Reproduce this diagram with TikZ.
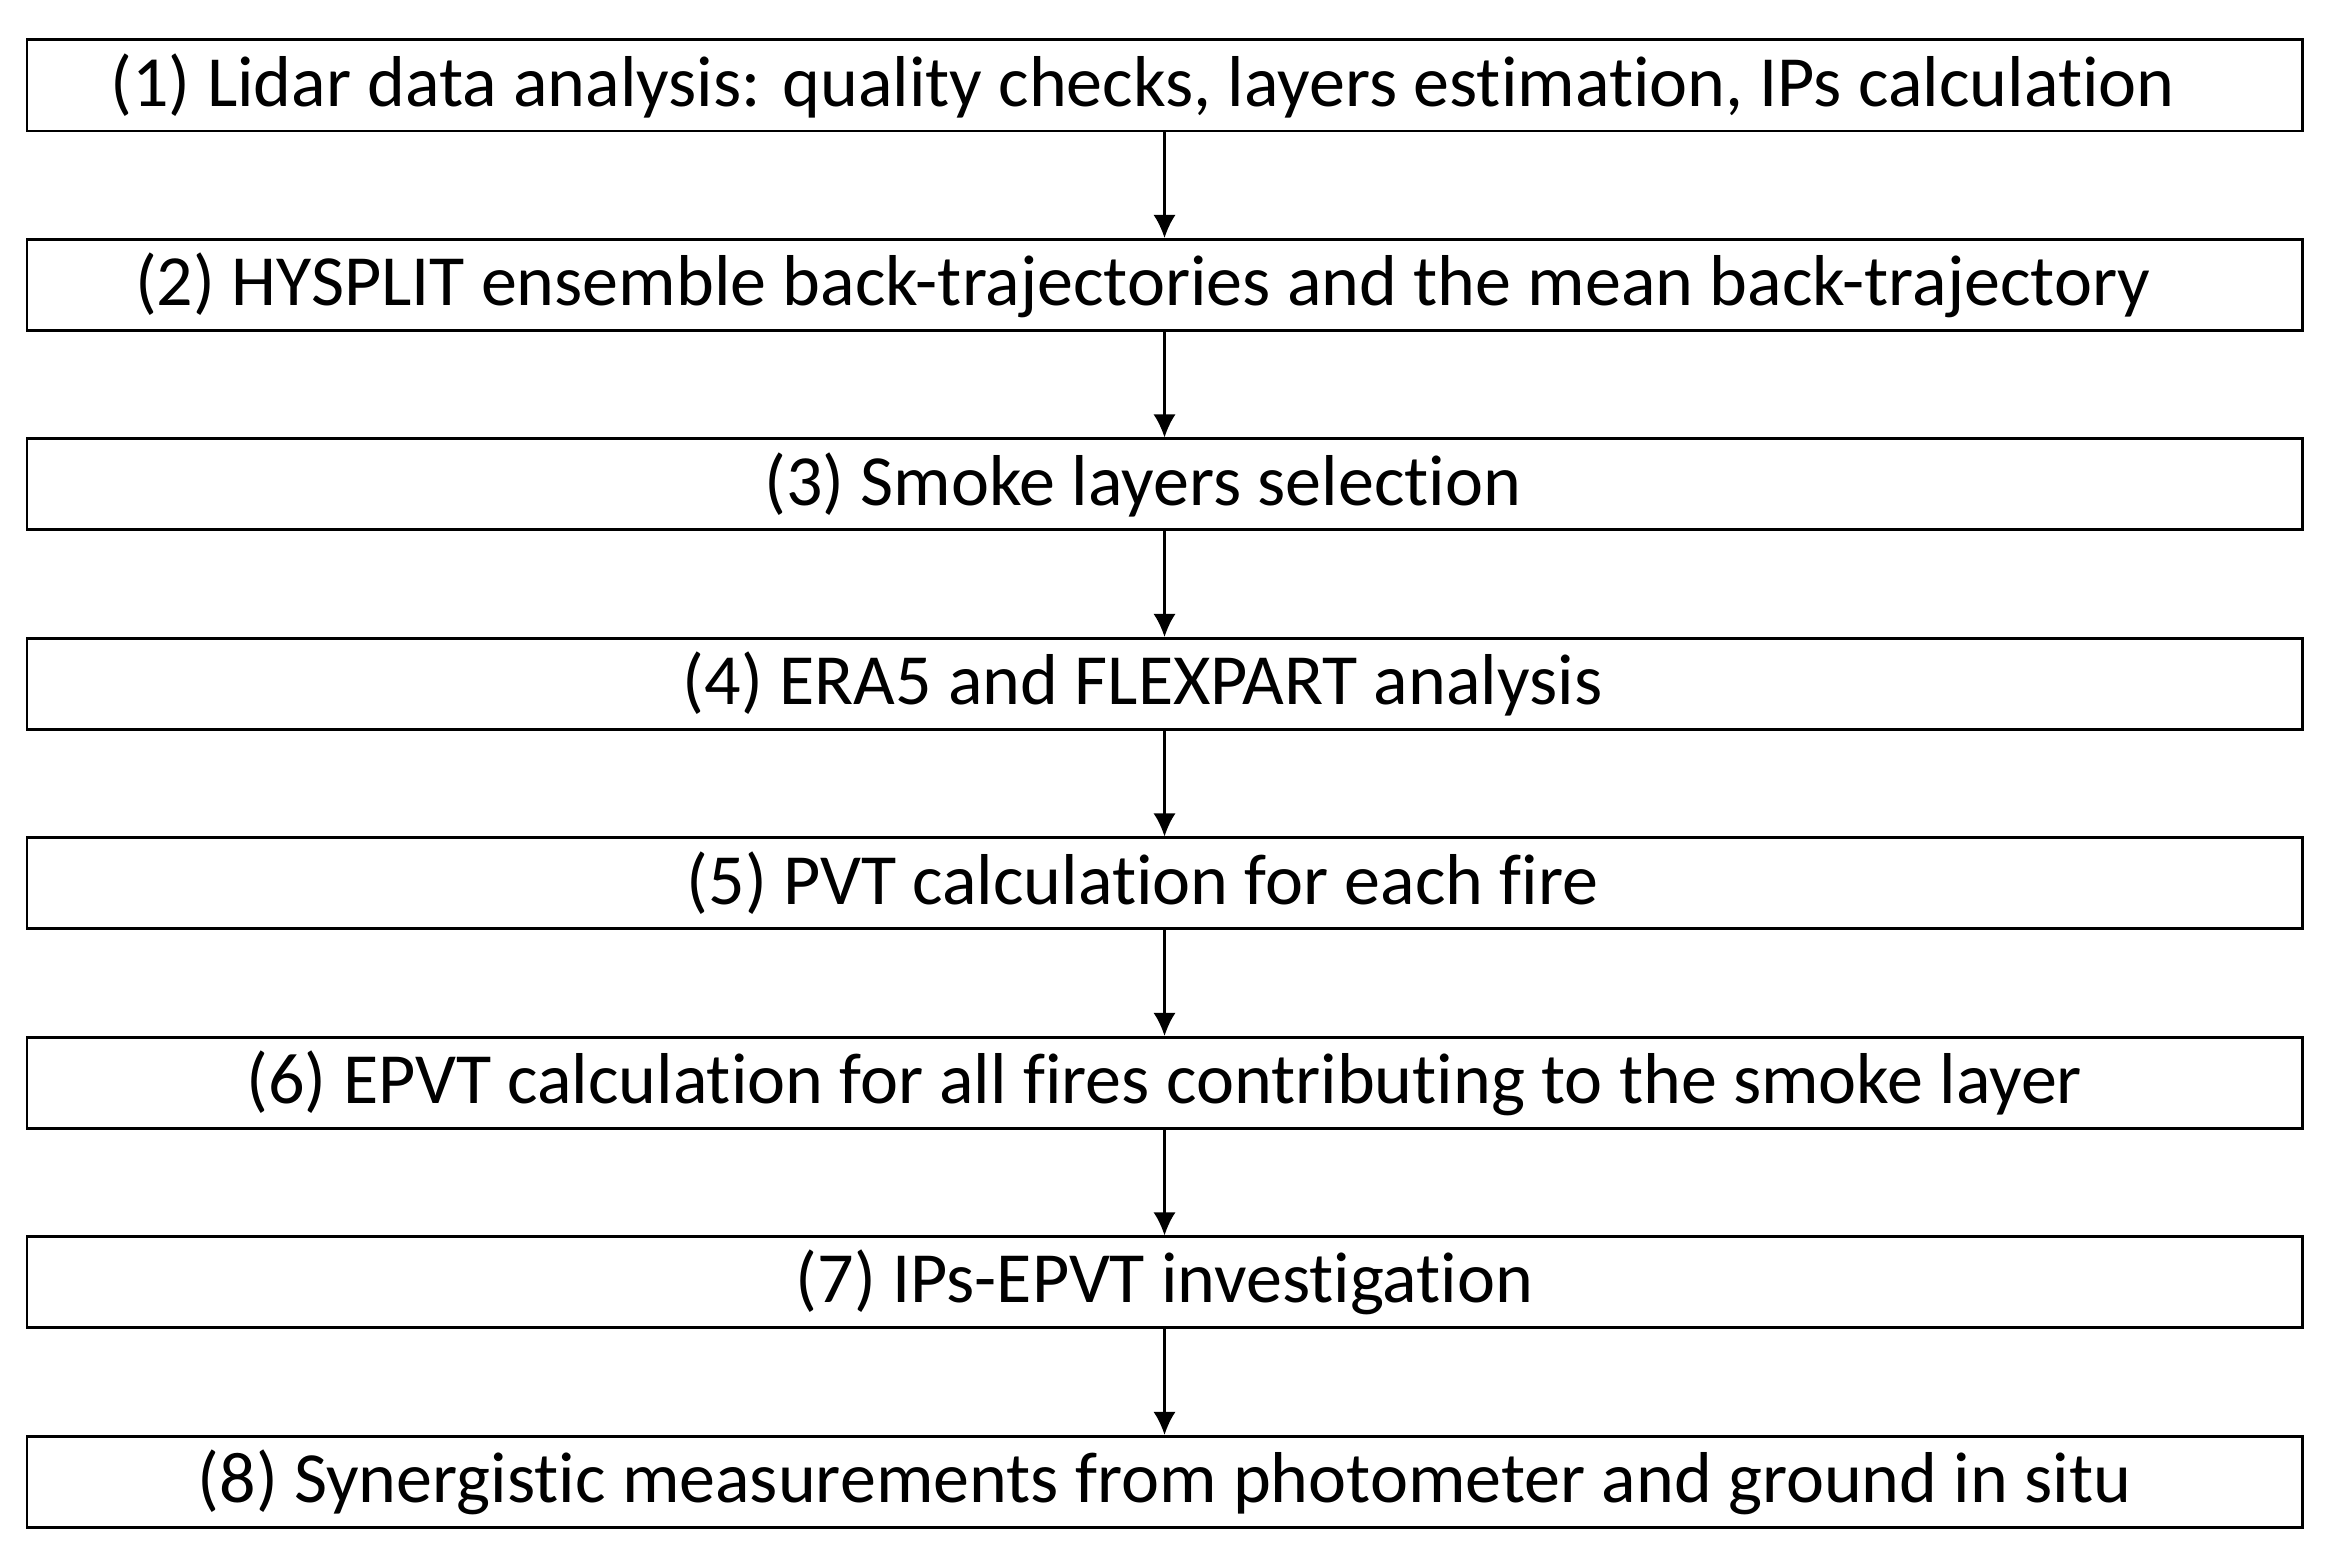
\documentclass[tikz,border=0pt]{standalone}
\usepackage{fontspec}
\setmainfont{Carlito}[Ligatures=NoCommon]
\usepackage{tikz}
\usetikzlibrary{positioning, arrows.meta}

\newcommand{\ghostpar}{\hphantom{()}}

\begin{document}
\begin{tikzpicture}[node distance=1.055cm,
	stepbox/.style={rectangle, draw, line width=0.85pt, minimum width=22.75cm, minimum height=0.91cm, inner sep=0pt, font=\fontsize{20.5}{24}\selectfont},
	flow/.style={line width=0.6pt, -{Latex[length=2.3mm,width=2.2mm]}}]
	\useasboundingbox (0,0) rectangle (23.25,-15.65);
	\node [stepbox] (lidar) at (11.645,-0.855) {(1) Lidar data analysis: quality checks, layers estimation, IPs calculation\ghostpar};
	\node [stepbox, below=of lidar] (hysplit) {(2) HYSPLIT ensemble back-trajectories and the mean back-trajectory\ghostpar};
	\node [stepbox, below=of hysplit] (smoke) {(3) Smoke layers selection\ghostpar};
	\node [stepbox, below=of smoke] (era) {(4) ERA5 and FLEXPART analysis\ghostpar};
	\node [stepbox, below=of era] (pvt) {(5) PVT calculation for each fire\ghostpar};
	\node [stepbox, below=of pvt] (epvt) {(6) EPVT calculation for all fires contributing to the smoke layer};
	\node [stepbox, below=of epvt] (ipsepvt) {(7) IPs-EPVT investigation};
	\node [stepbox, below=of ipsepvt] (synergy) {(8) Synergistic measurements from photometer and ground in situ};
	\foreach \a/\b in {lidar/hysplit, hysplit/smoke, smoke/era, era/pvt, pvt/epvt, epvt/ipsepvt, ipsepvt/synergy}
		\draw [flow] (\a) -- (\b);
\end{tikzpicture}
\end{document}
